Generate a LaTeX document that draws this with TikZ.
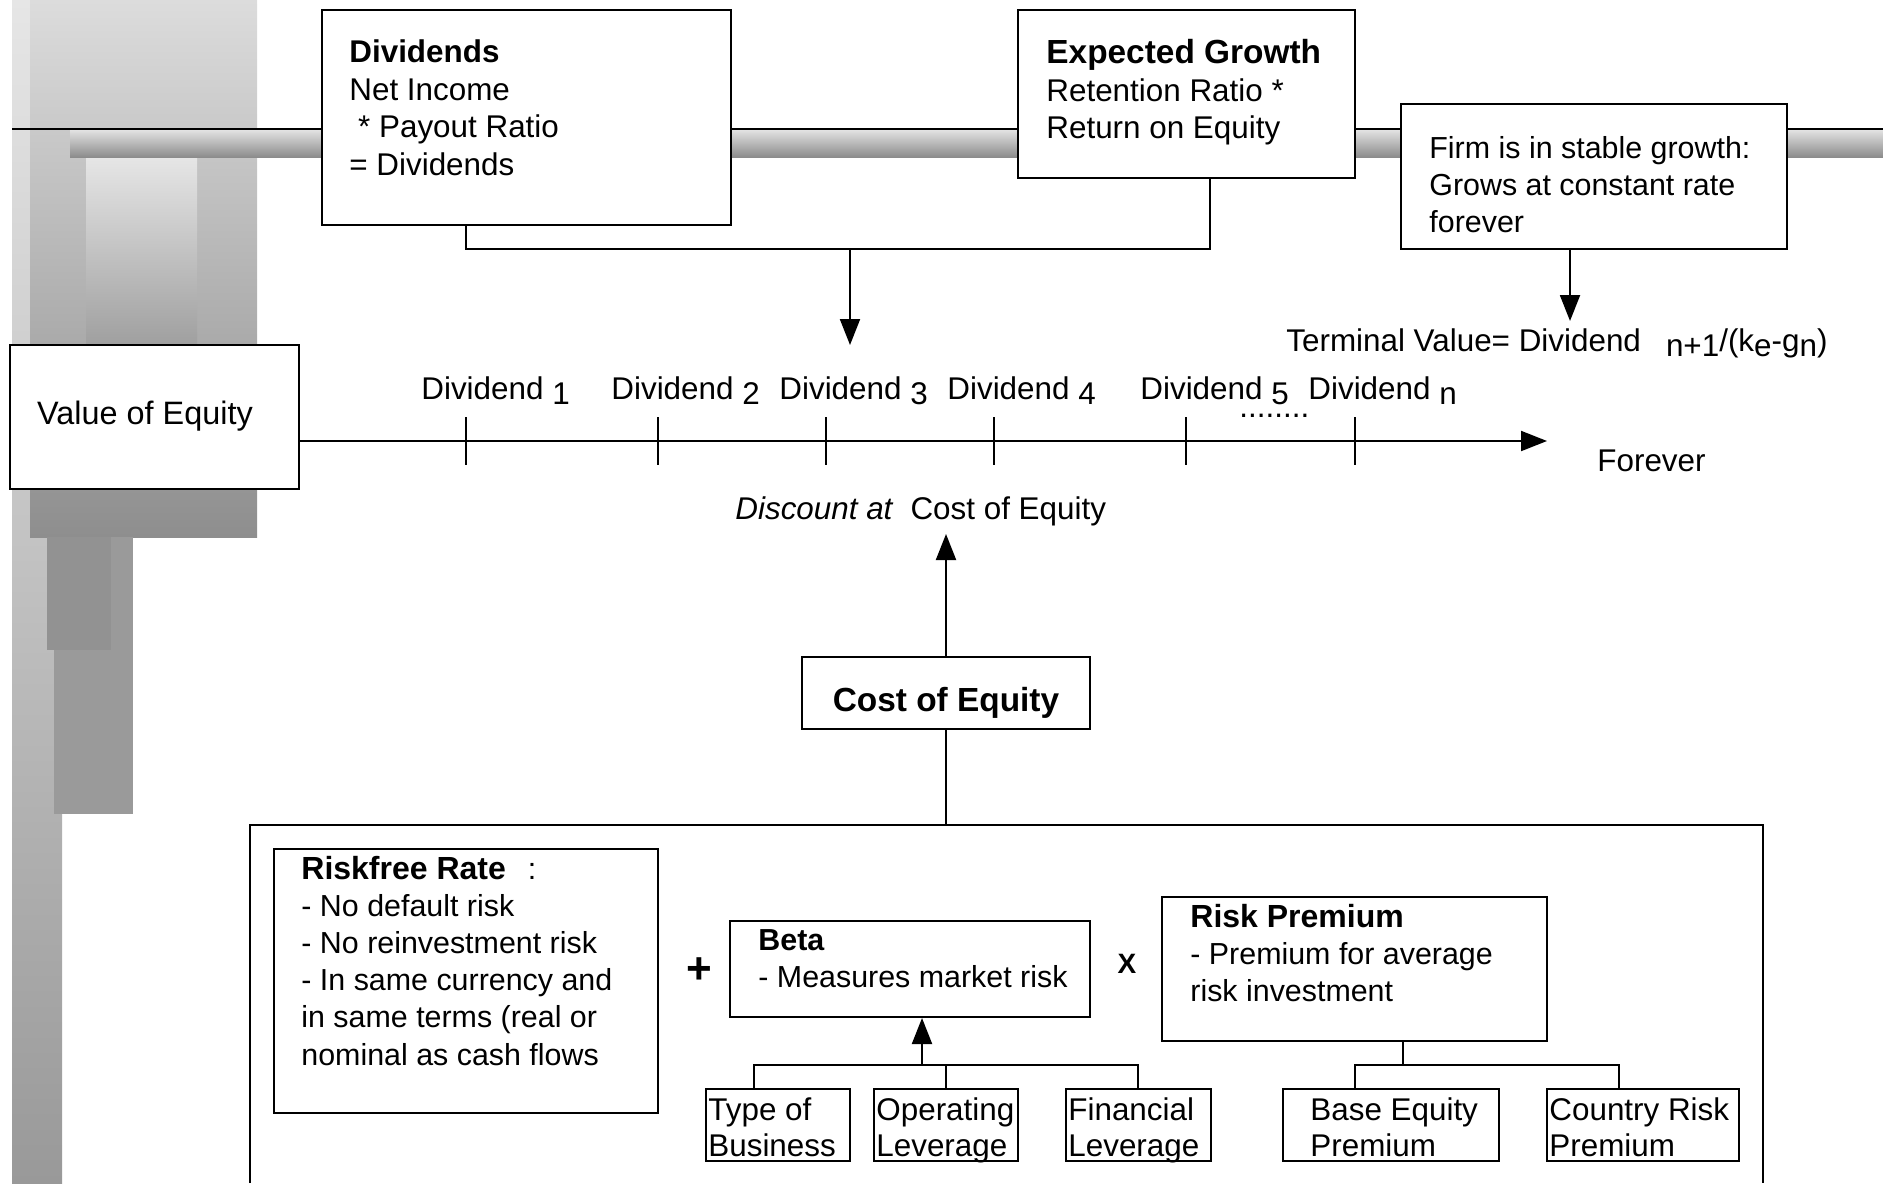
\documentclass[tikz,border=0pt]{standalone}
\usepackage{fontspec}
\setmainfont{Liberation Sans}
\usetikzlibrary{arrows.meta,fit}
\definecolor{dA}{HTML}{E6E6E6}
\definecolor{dB}{HTML}{999999}
\definecolor{dC}{HTML}{DCDCDC}
\definecolor{dD}{HTML}{929292}
\definecolor{dE}{HTML}{E6E6E6}
\definecolor{dF}{HTML}{A0A0A0}
\definecolor{dG}{HTML}{9A9A9A}
\definecolor{dH}{HTML}{8E8E8E}
\definecolor{barT}{HTML}{E2E2E2}
\definecolor{barB}{HTML}{8C8C8C}
\newcommand{\ttlbig}[1]{{\fontsize{16.7}{18.8}\selectfont\bfseries #1}}
\newcommand{\ttlmid}[1]{{\fontsize{16}{18.6}\selectfont\bfseries #1}}
\tikzset{
  box/.style={draw, line width=1pt, fill=white, inner sep=0pt},
  txt/.style={inner sep=0pt, align=left, font=\fontsize{15.7}{18.8}\selectfont},
  lowtxt/.style={inner sep=0pt, align=left, font=\fontsize{15.2}{18.6}\selectfont},
  smalltxt/.style={inner sep=0pt, align=left, font=\fontsize{15.7}{18}\selectfont},
  conn/.style={line width=1pt},
  arr/.style={line width=1pt, -{Triangle[width=10pt,length=13pt]}},
}
\begin{document}
\begin{tikzpicture}[x=0.5pt,y=-0.5pt]
\useasboundingbox (0,0) rectangle (1883,1183);
% left decoration
\shade[top color=dA, bottom color=dB] (12,0) rectangle (62,1183);
\shade[top color=dC, bottom color=dH] (30,0) rectangle (257,537);
\shade[top color=dE, bottom color=dF] (86,157) rectangle (197,343);
\fill[dG] (54,537) rectangle (133,814);
\fill[dD] (47,537) rectangle (111,650);
% top rail
\shade[top color=barT, bottom color=barB] (70,130) rectangle (1883,157);
\draw[line width=1pt] (12,129) -- (1883,129);
% boxes
\node[box, fit={(322,10) (731,225)}] (div) {};
\node[box, fit={(1018,10) (1355,178)}] (eg) {};
\node[box, fit={(1401,104) (1787,249)}] (firm) {};
\node[box, fit={(10,345) (299,489)}] (voe) {};
\node[box, fit={(802,657) (1090,729)}] (coe) {};
\draw[conn] (250,1183) -- (250,825) -- (1763,825) -- (1763,1183);
\node[box, fit={(274,849) (658,1113)}] (rf) {};
\node[box, fit={(730,921) (1090,1017)}] (beta) {};
\node[box, fit={(1162,897) (1547,1041)}] (rp) {};
\node[box, fit={(706,1089) (850,1161)}] (tob) {};
\node[box, fit={(874,1089) (1018,1161)}] (opl) {};
\node[box, fit={(1066,1089) (1211,1161)}] (fin) {};
\node[box, fit={(1283,1089) (1499,1161)}] (bep) {};
\node[box, fit={(1547,1089) (1739,1161)}] (crp) {};
% texts
\node[txt, anchor=north west] (divt) at (349,39.5) {\textbf{Dividends}\\Net Income\\\hspace*{4.4pt}* Payout Ratio\\= Dividends};
\node[txt, anchor=north west] (egt) at (1046,39) {\ttlbig{Expected Growth}\\Retention Ratio *\\Return on Equity};
\node[lowtxt, anchor=north west] (firmt) at (1429,136) {Firm is in stable growth:\\Grows at constant rate\\forever};
\node[txt, anchor=base, font=\fontsize{16.2}{19}\selectfont] (voet) at (145,424) {Value of Equity};
\node[txt, anchor=base west] (d1) at (421,399) {Dividend \raisebox{-2.5pt}{1}};
\node[txt, anchor=base west] (d2) at (611,399) {Dividend \raisebox{-2.5pt}{2}};
\node[txt, anchor=base west] (d3) at (779,399) {Dividend \raisebox{-2.5pt}{3}};
\node[txt, anchor=base west] (d4) at (947,399) {Dividend \raisebox{-2.5pt}{4}};
\node[txt, anchor=base west] (d5) at (1140,399) {Dividend \raisebox{-2.5pt}{5}};
\node[txt, anchor=base west] (dn) at (1308,399) {Dividend \raisebox{-2.5pt}{n}};
\node[txt, anchor=base west] (dots) at (1239,417) {........};
\node[txt, anchor=base west] (tv) at (1286,351) {Terminal Value= Dividend\hspace{12.5pt}\raisebox{-2.5pt}{n+1}/(k\raisebox{-2.5pt}{e}-g\raisebox{-2.5pt}{n})};
\node[txt, anchor=base west] (fv) at (1597,471) {Forever};
\node[txt, anchor=base west] (disc) at (735,519) {\textit{Discount at}\hspace{8.5pt}Cost of Equity};
\node[txt, anchor=base, font=\bfseries\fontsize{16.7}{19}\selectfont] (coet) at (946,711) {Cost of Equity};
\node[lowtxt, anchor=north west] (rft) at (301,855.5) {\ttlmid{Riskfree Rate}\hspace{11pt}:\\- No default risk\\- No reinvestment risk\\- In same currency and\\in same terms (real or\\nominal as cash flows};
\node[lowtxt, anchor=north west] (betat) at (758,929) {\textbf{Beta}\\- Measures market risk};
\node[lowtxt, anchor=north west] (rpt) at (1190,903.5) {\ttlmid{Risk Premium}\\- Premium for average\\risk investment};
\node[smalltxt, anchor=north west] (tobt) at (708,1097) {Type of\\Business};
\node[smalltxt, anchor=north west] (oplt) at (876,1097) {Operating\\Leverage};
\node[smalltxt, anchor=north west] (fint) at (1068,1097) {Financial\\Leverage};
\node[smalltxt, anchor=north west] (bept) at (1310,1097) {Base Equity\\Premium};
\node[smalltxt, anchor=north west] (crpt) at (1549,1097) {Country Risk\\Premium};
\node[inner sep=0pt, font=\bfseries\fontsize{22}{22}\selectfont] (plus) at (699,971) {+};
\node[inner sep=0pt, font=\bfseries\fontsize{14}{14}\selectfont] (times) at (1127,964) {X};
% connectors
\coordinate (j1) at (466,249);
\coordinate (j2) at (1210,249);
\coordinate (j3) at (850,249);
\coordinate (tip1) at (850,345);
\draw[conn] (div.south -| j1) -- (j1) -- (j2) -- (eg.south -| j2);
\draw[arr] (j3) -- (tip1);
\coordinate (f1) at (1570,321);
\draw[arr] (firm.south -| f1) -- (f1);
\coordinate (tl) at (1547,441);
\draw[arr] (voe.east |- tl) -- (tl);
\foreach \x in {466,658,826,994,1186,1355} \draw[conn] (\x,417) -- (\x,465);
\coordinate (c1) at (946,534);
\draw[arr] (coe.north) -- (c1);
\coordinate (bigtop) at (946,825);
\draw[conn] (coe.south) -- (bigtop);
\coordinate (bl) at (754,1065);
\coordinate (bm) at (946,1065);
\coordinate (br) at (1138,1065);
\coordinate (bc) at (922,1065);
\draw[conn] (tob.north -| bl) -- (bl) -- (br) -- (fin.north -| br);
\draw[conn] (bm) -- (opl.north -| bm);
\draw[arr] (bc) -- (beta.south -| bc);
\coordinate (rl) at (1355,1065);
\coordinate (rr) at (1619,1065);
\coordinate (rc) at (1403,1065);
\draw[conn] (rp.south -| rc) -- (rc);
\draw[conn] (bep.north -| rl) -- (rl) -- (rr) -- (crp.north -| rr);
\end{tikzpicture}
\end{document}
